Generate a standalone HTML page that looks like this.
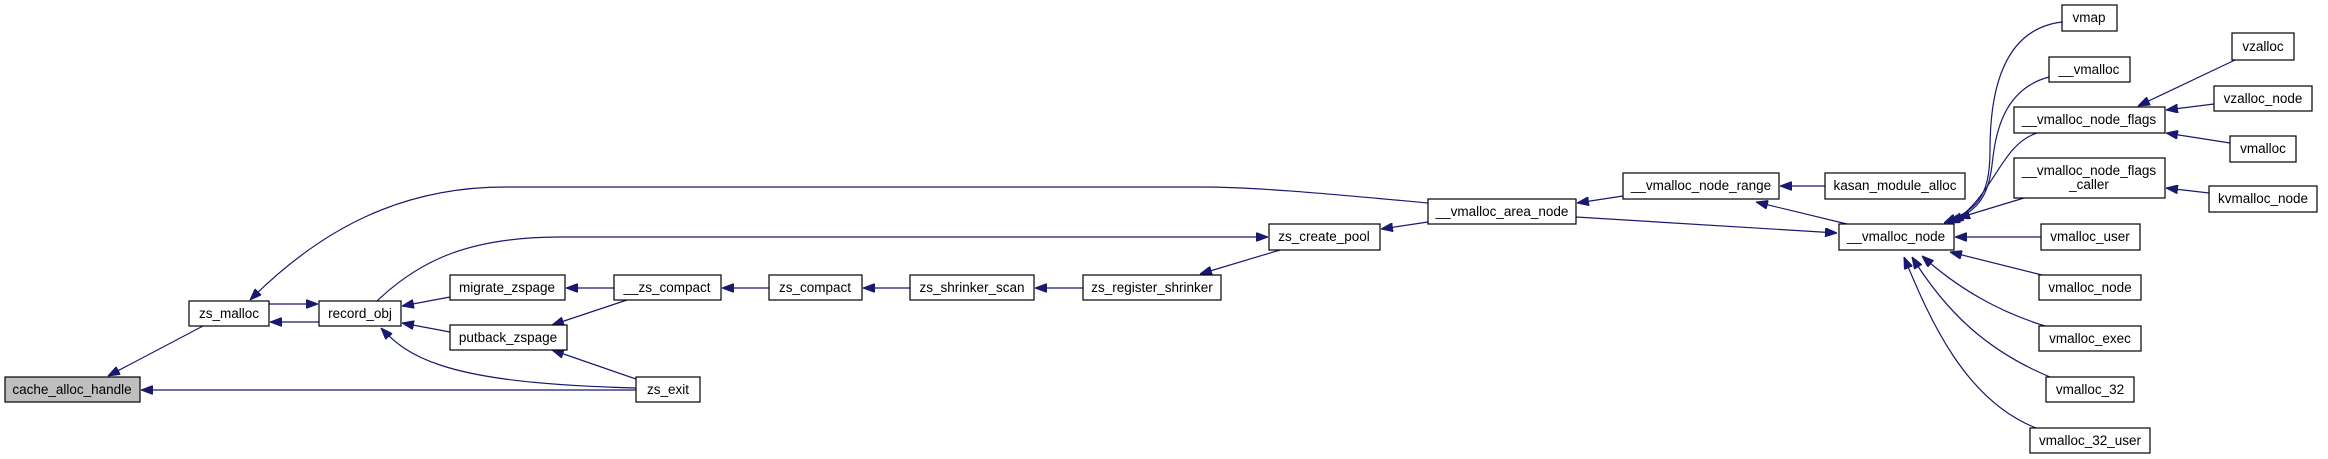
<!DOCTYPE html>
<html><head><meta charset="utf-8"><style>
html,body{margin:0;padding:0;background:#fff;}
svg{display:block;}
text{font-family:"Liberation Sans",sans-serif;font-size:13.5px;fill:#000;text-anchor:middle;}
rect{fill:#fff;stroke:#000;stroke-width:1.2;}
path{fill:none;stroke:#191970;stroke-width:1.2;}
</style></head><body>
<svg width="2328" height="459" viewBox="0 0 2328 459" xmlns="http://www.w3.org/2000/svg">
<defs>
<marker id="a" markerWidth="12" markerHeight="9" refX="12" refY="4.5" orient="auto" markerUnits="userSpaceOnUse">
<path d="M0,0 L12,4.5 L0,9 Z" style="fill:#191970;stroke:#191970;stroke-width:1"/>
</marker>
</defs>
<g>
<path d="M203,326 L108,376" marker-end="url(#a)"/>
<path d="M636,390 L141,390" marker-end="url(#a)"/>
<path d="M269,304 L318,304" marker-end="url(#a)"/>
<path d="M319,322 L270,322" marker-end="url(#a)"/>
<path d="M450,297 L402,306" marker-end="url(#a)"/>
<path d="M450,332 L402,323" marker-end="url(#a)"/>
<path d="M636,388 C520,385 470,375 440,365 C410,355 395,343 381,328" marker-end="url(#a)"/>
<path d="M627,300 L552,325" marker-end="url(#a)"/>
<path d="M636,379 L552,350" marker-end="url(#a)"/>
<path d="M614,288 L566,288" marker-end="url(#a)"/>
<path d="M769,288 L722,288" marker-end="url(#a)"/>
<path d="M910,288 L863,288" marker-end="url(#a)"/>
<path d="M1083,288 L1035,288" marker-end="url(#a)"/>
<path d="M1428,203 C1340,195 1260,187 1200,187 L505,187 C400,187 320,230 250,300" marker-end="url(#a)"/>
<path d="M377,301 C420,260 470,237 560,237 L1268,237" marker-end="url(#a)"/>
<path d="M1280,250 L1200,274" marker-end="url(#a)"/>
<path d="M1428,222 L1381,229" marker-end="url(#a)"/>
<path d="M1623,196 L1577,203" marker-end="url(#a)"/>
<path d="M1825,186 L1780,186" marker-end="url(#a)"/>
<path d="M1847,224 L1756,202" marker-end="url(#a)"/>
<path d="M1576,217 L1837,233" marker-end="url(#a)"/>
<path d="M2062,22 C1995,30 1990,110 1990,150 C1990,200 1975,210 1944,223" marker-end="url(#a)"/>
<path d="M2049,77 C2000,90 1995,140 1992,165 C1988,200 1975,212 1948,223" marker-end="url(#a)"/>
<path d="M2037,133 C2000,145 1995,195 1952,223" marker-end="url(#a)"/>
<path d="M2024,198 L1958,218" marker-end="url(#a)"/>
<path d="M2041,237 L1955,237" marker-end="url(#a)"/>
<path d="M2042,275 L1950,252" marker-end="url(#a)"/>
<path d="M2045,326 C2000,312 1960,290 1922,256" marker-end="url(#a)"/>
<path d="M2050,377 C1985,350 1945,310 1912,257" marker-end="url(#a)"/>
<path d="M2036,428 C1965,400 1930,320 1904,257" marker-end="url(#a)"/>
<path d="M2235,60 L2138,106" marker-end="url(#a)"/>
<path d="M2214,104 L2166,110" marker-end="url(#a)"/>
<path d="M2230,143 L2166,133" marker-end="url(#a)"/>
<path d="M2209,193 L2166,188" marker-end="url(#a)"/>
</g>
<g>
<rect x="5" y="377" width="135" height="25" style="fill:#bfbfbf"/><text x="72" y="394">cache_alloc_handle</text>
<rect x="189" y="301" width="80" height="25"/><text x="229" y="318">zs_malloc</text>
<rect x="319" y="301" width="82" height="25"/><text x="360" y="318">record_obj</text>
<rect x="450" y="275" width="115" height="25"/><text x="507" y="292">migrate_zspage</text>
<rect x="450" y="325" width="117" height="25"/><text x="508" y="342">putback_zspage</text>
<rect x="614" y="275" width="107" height="25"/><text x="667" y="292">__zs_compact</text>
<rect x="636" y="377" width="64" height="25"/><text x="668" y="394">zs_exit</text>
<rect x="769" y="275" width="93" height="25"/><text x="815" y="292">zs_compact</text>
<rect x="910" y="275" width="124" height="25"/><text x="972" y="292">zs_shrinker_scan</text>
<rect x="1083" y="275" width="138" height="25"/><text x="1152" y="292">zs_register_shrinker</text>
<rect x="1269" y="224" width="111" height="26"/><text x="1324" y="241">zs_create_pool</text>
<rect x="1428" y="199" width="148" height="25"/><text x="1502" y="216">__vmalloc_area_node</text>
<rect x="1623" y="173" width="156" height="26"/><text x="1701" y="190">__vmalloc_node_range</text>
<rect x="1825" y="173" width="140" height="26"/><text x="1895" y="190">kasan_module_alloc</text>
<rect x="1839" y="224" width="115" height="26"/><text x="1896" y="241">__vmalloc_node</text>
<rect x="2062" y="5" width="55" height="26"/><text x="2089" y="22">vmap</text>
<rect x="2049" y="57" width="81" height="25"/><text x="2089" y="74">__vmalloc</text>
<rect x="2014" y="107" width="151" height="26"/><text x="2089" y="124">__vmalloc_node_flags</text>
<rect x="2014" y="158" width="151" height="40"/><text x="2089" y="175">__vmalloc_node_flags</text><text x="2089" y="189">_caller</text>
<rect x="2232" y="33" width="62" height="27"/><text x="2263" y="51">vzalloc</text>
<rect x="2214" y="86" width="98" height="25"/><text x="2263" y="103">vzalloc_node</text>
<rect x="2230" y="136" width="66" height="26"/><text x="2263" y="153">vmalloc</text>
<rect x="2209" y="186" width="108" height="26"/><text x="2263" y="203">kvmalloc_node</text>
<rect x="2041" y="224" width="99" height="26"/><text x="2090" y="241">vmalloc_user</text>
<rect x="2039" y="275" width="102" height="25"/><text x="2090" y="292">vmalloc_node</text>
<rect x="2039" y="326" width="102" height="25"/><text x="2090" y="343">vmalloc_exec</text>
<rect x="2046" y="377" width="88" height="25"/><text x="2090" y="394">vmalloc_32</text>
<rect x="2030" y="428" width="120" height="25"/><text x="2090" y="445">vmalloc_32_user</text>
</g>
</svg>
</body></html>
